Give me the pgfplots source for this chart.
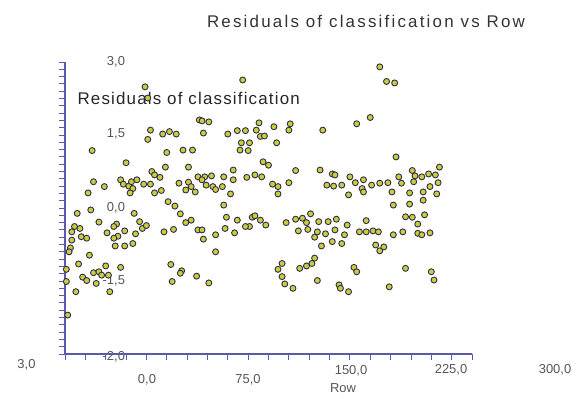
\documentclass[border=0pt]{standalone}
\usepackage{pgfplots}
\pgfplotsset{compat=1.18}
\usepackage{fontspec}
\setmainfont{Liberation Sans}
\newfontfamily\titlefont[LetterSpace=13]{Liberation Sans}
\newfontfamily\labelfont[LetterSpace=7]{Liberation Sans}
\definecolor{axblue}{HTML}{5A5AA8}
\definecolor{mfill}{HTML}{CCCC40}
\definecolor{medge}{HTML}{2E2E48}
\definecolor{ticktxt}{HTML}{555555}
\pgfplotstableread{
row res
59 2.49
61 2.26
63 1.60
61 1.41
72 1.52
77 1.57
82 1.52
99 1.81
20 1.18
75 1.14
87 1.19
94 1.19
45 0.93
74 0.84
91 0.84
64 0.75
66 0.68
70 0.63
21 0.54
29 0.44
41 0.58
43 0.49
47 0.45
49 0.54
53 0.58
58 0.49
63 0.49
84 0.51
91 0.53
93 0.44
98 0.64
50 0.40
48 0.31
66 0.31
71 0.36
96 0.33
89 0.37
17 0.31
9 -0.11
19 -0.04
51 -0.11
76 0.13
81 0.04
85 -0.12
89 -0.30
93 -0.25
98 -0.45
25 -0.29
38 -0.33
36 -0.38
55 -0.28
57 -0.42
60 -0.36
7 -0.38
11 -0.42
5 -0.49
31 -0.51
44 -0.47
39 -0.58
52 -0.53
73 -0.49
80 -0.44
12 -0.59
16 -0.62
36 -0.62
37 -0.78
44 -0.78
50 -0.73
5 -0.66
4 -0.82
3 -0.90
18 -0.97
10 -1.15
30 -1.19
41 -1.22
1 -1.26
78 -1.16
86 -1.29
85 -1.34
21 -1.33
25 -1.31
27 -1.38
32 -1.38
13 -1.42
16 -1.49
23 -1.55
1 -1.51
79 -1.51
97 -1.40
8 -1.72
33 -1.72
2 -2.20
232 2.90
237 2.60
243 2.57
131 2.63
225 1.86
215 1.73
190 1.60
244 1.05
101 1.79
106 1.77
102 1.54
120 1.52
127 1.59
133 1.59
143 1.75
141 1.60
144 1.47
147 1.48
154 1.67
166 1.73
165 1.60
130 1.34
136 1.34
129 1.19
135 1.18
156 1.34
146 0.95
150 0.88
124 0.78
170 0.77
103 0.64
108 0.66
117 0.64
124 0.58
134 0.63
140 0.68
145 0.64
153 0.49
157 0.44
165 0.52
188 0.78
197 0.70
199 0.68
193 0.47
198 0.45
204 0.47
210 0.64
214 0.52
220 0.58
226 0.47
232 0.51
238 0.52
246 0.64
101 0.58
104 0.47
109 0.44
116 0.44
248 0.51
256 0.77
258 0.66
263 0.64
268 0.70
273 0.68
276 0.84
275 0.52
269 0.44
257 0.54
111 0.38
122 0.29
157 0.29
209 0.27
219 0.40
220 0.33
241 0.33
242 0.06
117 0.06
119 -0.19
127 -0.25
138 -0.19
140 -0.16
144 -0.25
148 -0.35
136 -0.38
133 -0.38
118 -0.42
125 -0.51
101 -0.45
102 -0.64
111 -0.55
111 -0.90
163 -0.30
170 -0.23
175 -0.21
178 -0.30
181 -0.12
187 -0.28
194 -0.28
200 -0.23
208 -0.35
172 -0.47
179 -0.44
186 -0.49
184 -0.60
192 -0.53
199 -0.45
206 -0.55
189 -0.78
197 -0.69
204 -0.73
222 -0.26
217 -0.49
222 -0.49
227 -0.47
231 -0.49
242 -0.55
229 -0.76
235 -0.80
232 -0.88
160 -1.14
157 -1.26
160 -1.41
162 -1.56
168 -1.65
173 -1.24
178 -1.19
182 -1.14
184 -1.03
186 -1.49
202 -1.58
203 -1.65
209 -1.72
213 -1.22
215 -1.31
239 -1.62
106 -1.54
254 0.31
264 0.33
274 0.29
264 0.16
254 0.08
265 -0.14
251 -0.18
256 -0.19
260 -0.33
260 -0.52
269 -0.51
263 -0.55
249 -0.49
251 -1.24
270 -1.31
272 -1.48
}\resid
\begin{document}
\begin{tikzpicture}[x=1bp,y=1bp]
\useasboundingbox (-65,-44) rectangle (511,354);
% title and labels (drawn first, points lie over them)
\node[font=\titlefont\fontsize{17}{20}\selectfont, text=black!80] at (301,333) {Residuals of classification vs Row};
\node[font=\labelfont\fontsize{17}{20}\selectfont, text=black!85, anchor=west] at (9,255.7) {Residuals of classification};
\begin{scope}[every node/.style={font=\fontsize{13}{15}\selectfont, text=ticktxt}]
\node[anchor=east] at (63.5,292) {3,0};
\node[anchor=east] at (63.5,220) {1,5};
\node[anchor=east] at (63.5,146) {0,0};
\node[anchor=east] at (63.5,73) {-1,5};
\node[anchor=east] at (63.5,-3) {-2,0};
\node at (-38.5,-11) {3,0};
\node at (82,-26) {0,0};
\node at (183,-26) {75,0};
\node at (286,-17) {150,0};
\node at (386,-16) {225,0};
\node at (490,-16) {300,0};
\node[anchor=north] at (278,-26) {Row};
\end{scope}
\begin{axis}[
  at={(0,0)}, anchor=south west,
  scale only axis, width=407bp, height=292bp,
  xmin=0, xmax=300, ymin=-3, ymax=3,
  axis x line*=bottom, axis y line*=left,
  axis line style={axblue, line width=1.3bp},
  xtick={0,15,...,300}, ytick={-3,-2.85,...,3.01},
  xticklabels={}, yticklabels={},
  tick align=outside, major tick length=6bp,
  tick style={axblue, line width=0.9bp},
  clip=false,
]
\addplot[only marks, mark=*, mark size=3bp,
  mark options={fill=mfill, draw=medge, line width=0.9bp}]
  table[x=row, y=res] {\resid};
\end{axis}
\end{tikzpicture}
\end{document}
